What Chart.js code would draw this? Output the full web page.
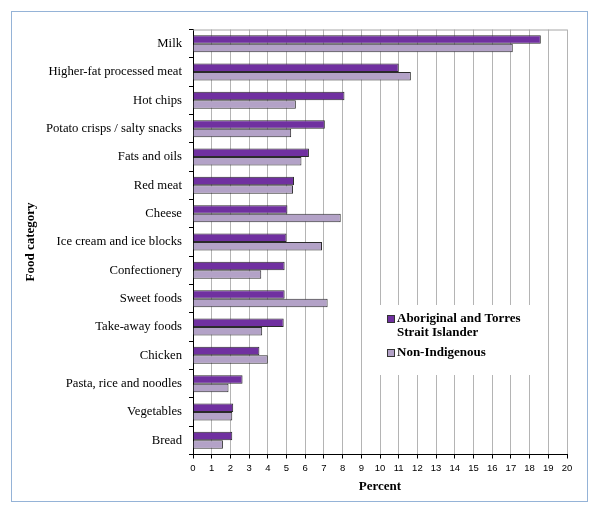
<!DOCTYPE html>
<html>
<head>
<meta charset="utf-8">
<script src="https://cdn.jsdelivr.net/npm/chart.js@4"></script>
<style>
  body { margin: 0; background: #fff; }
  #wrap { position: relative; width: 600px; height: 511px; }
  #frame { position: absolute; left: 11px; top: 11px; width: 575px; height: 489px; border: 1px solid #95b3d7; pointer-events: none; }
</style>
</head>
<body>
<div id="wrap">
  <canvas id="foodChart" width="600" height="511"></canvas>
  <div id="frame"></div>
</div>
<script>
const categories = ['Milk', 'Higher-fat processed meat', 'Hot chips', 'Potato crisps / salty snacks',
  'Fats and oils', 'Red meat', 'Cheese', 'Ice cream and ice blocks', 'Confectionery', 'Sweet foods',
  'Take-away foods', 'Chicken', 'Pasta, rice and noodles', 'Vegetables', 'Bread'];
const aboriginal = [18.6, 11.0, 8.1, 7.05, 6.2, 5.4, 5.05, 5.0, 4.9, 4.9, 4.85, 3.55, 2.65, 2.15, 2.1];
const nonIndigenous = [17.1, 11.65, 5.5, 5.25, 5.8, 5.35, 7.9, 6.9, 3.65, 7.2, 3.7, 4.0, 1.9, 2.1, 1.6];
const xTicks = { min: 0, max: 20, step: 1 };

const serif = "'Liberation Serif', 'Times New Roman', serif";

// legend drawn inside the plot, on a white box
const boxLegend = {
  id: 'boxLegend',
  afterDraw(chart) {
    const ctx = chart.ctx;
    const area = chart.chartArea;
    ctx.save();
    // top border of plot
    ctx.strokeStyle = '#a6a6a6';
    ctx.lineWidth = 1;
    ctx.beginPath();
    ctx.moveTo(area.left, area.top + 0.5);
    ctx.lineTo(area.right, area.top + 0.5);
    ctx.stroke();

    const bx = 377, by = 305;
    ctx.fillStyle = '#fff';
    ctx.fillRect(bx, by, 158, 70);
    ctx.font = 'bold 13px ' + serif;
    ctx.textBaseline = 'middle';
    let y = by + 14;
    chart.data.datasets.forEach(ds => {
      ctx.fillStyle = ds.backgroundColor;
      ctx.fillRect(bx + 10.5, y - 3.5, 7, 7);
      ctx.strokeStyle = '#333';
      ctx.strokeRect(bx + 10.5, y - 3.5, 7, 7);
      ctx.fillStyle = '#000';
      const words = ds.label.split(' ');
      let line = '';
      const lines = [];
      words.forEach(w => {
        const test = line ? line + ' ' + w : w;
        if (ctx.measureText(test).width > 125 && line) { lines.push(line); line = w; }
        else line = test;
      });
      lines.push(line);
      lines.forEach((l, i) => ctx.fillText(l, bx + 20, y + i * 14));
      y += lines.length * 14 + 6;
    });
    ctx.restore();
  }
};

new Chart(document.getElementById('foodChart'), {
  type: 'bar',
  data: {
    labels: categories,
    datasets: [
      { label: 'Aboriginal and Torres Strait Islander', data: aboriginal, backgroundColor: '#7030a0', borderColor: '#2b2b2b', borderWidth: 1 },
      { label: 'Non-Indigenous', data: nonIndigenous, backgroundColor: '#b3a2c7', borderColor: '#2b2b2b', borderWidth: 1 }
    ]
  },
  options: {
    indexAxis: 'y',
    responsive: false,
    animation: false,
    categoryPercentage: 0.6,
    barPercentage: 1,
    layout: { padding: { top: 29.5, right: 33, left: 0, bottom: 0 } },
    plugins: { legend: { display: false }, tooltip: { enabled: false } },
    scales: {
      x: {
        min: xTicks.min, max: xTicks.max,
        afterFit: s => { s.height = 56.5; },
        ticks: { stepSize: xTicks.step, color: '#000', padding: 4, font: { family: "'Liberation Sans', Arial, sans-serif", size: 9.5 } },
        grid: { color: '#b4b4b4', tickColor: '#000', tickLength: 4 },
        border: { color: '#000' },
        title: { display: true, text: 'Percent', color: '#000', font: { family: serif, size: 13, weight: 'bold' }, padding: { top: 0, bottom: 17 } }
      },
      y: {
        offset: true,
        afterFit: s => { s.width = 193; },
        ticks: { color: '#000', padding: 7, font: { family: serif, size: 12.7 } },
        grid: { offset: true, drawOnChartArea: false, tickColor: '#000', tickLength: 4 },
        border: { color: '#000' },
        title: { display: true, text: 'Food category', color: '#000', font: { family: serif, size: 13, weight: 'bold' }, padding: { top: 23, bottom: 0 } }
      }
    }
  },
  plugins: [boxLegend]
});
</script>
</body>
</html>
